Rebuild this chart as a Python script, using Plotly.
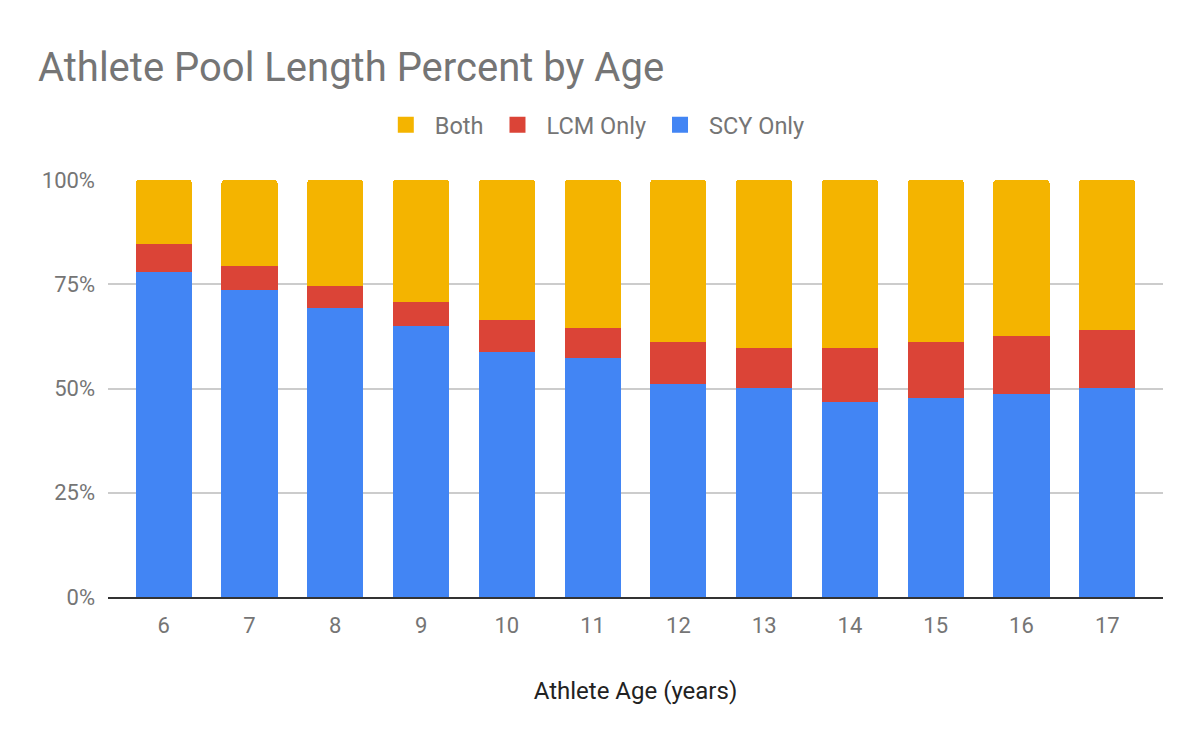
import plotly.graph_objects as go

ages = ["6", "7", "8", "9", "10", "11", "12", "13", "14", "15", "16", "17"]
scy_only = [78.0, 73.7, 69.4, 65.1, 58.8, 57.4, 51.2, 50.2, 46.8, 47.8, 48.8, 50.2]
lcm_only = [6.7, 5.7, 5.2, 5.6, 7.6, 7.1, 10.0, 9.5, 12.9, 13.4, 13.8, 13.8]
both = [15.3, 20.6, 25.4, 29.3, 33.6, 35.5, 38.8, 40.3, 40.3, 38.8, 37.4, 36.0]
y_ticks = [0, 25, 50, 75, 100]
y_tick_labels = ["0%", "25%", "50%", "75%", "100%"]

series = [
    ("SCY Only", scy_only, "#4285F4"),
    ("LCM Only", lcm_only, "#DB4437"),
    ("Both", both, "#F4B400"),
]

fig = go.Figure()
for name, vals, color in series:
    fig.add_trace(go.Bar(x=ages, y=vals, name=name, marker_color=color,
                         marker_line_width=0, showlegend=False,
                         legendgroup=name, hoverinfo="skip"))
# legend entries with larger square swatches
for name, vals, color in reversed(series):
    fig.add_trace(go.Scatter(x=[None], y=[None], mode="markers", name=name,
                             legendgroup=name, hoverinfo="skip",
                             marker=dict(symbol="square", size=16, color=color)))

# the page adds an 8px body margin, so the figure is 8px smaller and offset
W, H = 1192, 734
fig.update_layout(
    width=W, height=H,
    margin=dict(l=100, r=37, t=172, b=145),
    paper_bgcolor="white", plot_bgcolor="white",
    barmode="stack", barnorm="percent", bargap=0.346,
    barcornerradius=3,
    font=dict(family="Roboto", color="#757575", size=22),
    title=dict(text="Athlete Pool Length Percent by Age", x=30 / W, xanchor="left",
               xref="container", y=0.92, yanchor="middle",
               font=dict(family="Roboto", size=40, color="#757575")),
    legend=dict(orientation="h", x=0.460, xanchor="center", y=1.132, yanchor="middle",
                itemwidth=48,
                font=dict(family="Roboto", size=23.5, color="#757575"),
                itemclick=False, itemdoubleclick=False),
    xaxis=dict(type="category", range=[-0.65, 11.65], showgrid=False,
               showline=True, linecolor="#333333", linewidth=2,
               tickfont=dict(size=22, color="#757575"), ticks="",
               ticklabelstandoff=8,
               title=dict(text="Athlete Age (years)", standoff=45,
                          font=dict(size=24, color="#222222"))),
    yaxis=dict(range=[0, 100], tickmode="array", tickvals=y_ticks,
               ticktext=y_tick_labels,
               showgrid=True, gridcolor="#cccccc", gridwidth=1.5,
               zeroline=False, showline=False, ticks="",
               ticklabelstandoff=12,
               tickfont=dict(size=22, color="#757575")),
)

fig.write_html("out.html")
